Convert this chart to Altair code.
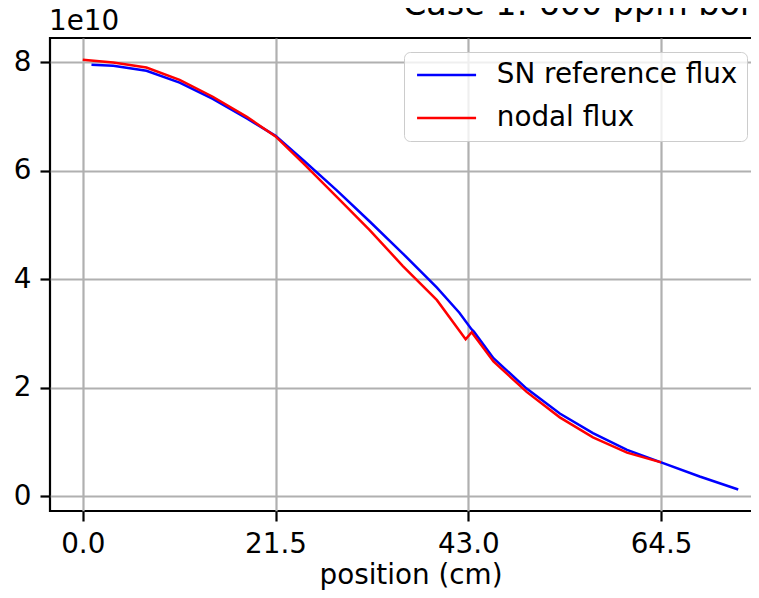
import altair as alt
import pandas as pd

# ---- data (flux in units of 1e10) ----
sn_x = [0.97, 3.4, 7.1, 10.8, 14.5, 18.3, 21.5, 24.6, 28.3, 32.0, 35.7, 39.5, 42.0,
        43.37, 43.62, 45.8, 49.5, 53.2, 56.9, 60.7, 64.5, 68.8, 73.1]
sn_y = [7.95, 7.93, 7.84, 7.62, 7.32, 6.96, 6.64, 6.19, 5.64, 5.06, 4.47, 3.84, 3.38,
        3.07, 3.03, 2.54, 1.98, 1.52, 1.16, 0.85, 0.62, 0.36, 0.12]

nodal_x = [0.0, 3.4, 7.1, 10.8, 14.5, 18.3, 21.5, 24.6, 28.3, 32.0, 35.7, 39.5, 42.7,
           43.37, 45.8, 49.5, 53.2, 56.9, 60.7, 64.5]
nodal_y = [8.04, 7.99, 7.90, 7.67, 7.36, 6.99, 6.63, 6.13, 5.52, 4.90, 4.24, 3.61, 2.89,
           3.02, 2.48, 1.92, 1.45, 1.08, 0.80, 0.62]

series_names = ["SN reference flux", "nodal flux"]
series_colors = ["#0000ff", "#ff0000"]
x_ticks = [0.0, 21.5, 43.0, 64.5]
y_ticks = [0, 2, 4, 6, 8]
title_text = "Case 1: 600 ppm boron"
exp_label = "1e10"

FONT = "DejaVu Sans"
FS = 27.8

df = pd.concat([
    pd.DataFrame({"position": sn_x, "flux": sn_y, "series": series_names[0]}),
    pd.DataFrame({"position": nodal_x, "flux": nodal_y, "series": series_names[1]}),
], ignore_index=True)

x_enc = alt.X("position:Q",
              scale=alt.Scale(domain=[-3.655, 76.755], nice=False, zero=False),
              axis=alt.Axis(values=x_ticks, format=".1f", title="position (cm)",
                            titleX=360.5, titleY=72, titleBaseline="alphabetic",
                            titleAlign="center"))
y_enc = alt.Y("flux:Q",
              scale=alt.Scale(domain=[-0.276, 8.443], nice=False, zero=False),
              axis=alt.Axis(values=y_ticks, format="d", title=None))
color_enc = alt.Color("series:N",
                      scale=alt.Scale(domain=series_names, range=series_colors),
                      legend=alt.Legend(title=None, orient="none", legendX=354, legendY=14,
                                        symbolType="M-1,0H5", symbolSize=387,
                                        symbolStrokeWidth=2.5, labelFontSize=FS,
                                        labelFont=FONT, labelColor="black", labelLimit=500,
                                        labelOffset=56, rowPadding=14, padding=9,
                                        strokeColor="#cccccc", cornerRadius=6,
                                        fillColor="rgba(255,255,255,0.8)"))

base = alt.Chart(df).mark_line(strokeWidth=2.5, interpolate="linear").encode(
    x=x_enc, y=y_enc, color=color_enc)

sn_line = base.transform_filter(alt.datum.series == series_names[0])
nodal_line = base.transform_filter(alt.datum.series == series_names[1])

title_mark = alt.Chart(pd.DataFrame({"t": [title_text]})).mark_text(
    font=FONT, fontSize=33.4, align="left", baseline="alphabetic", color="black"
).encode(x=alt.value(353), y=alt.value(-23), text="t:N")

exp_mark = alt.Chart(pd.DataFrame({"t": [exp_label]})).mark_text(
    font=FONT, fontSize=FS, align="left", baseline="alphabetic", color="black"
).encode(x=alt.value(-1), y=alt.value(-8), text="t:N")

chart = alt.layer(sn_line, nodal_line, title_mark, exp_mark).properties(
    width=721, height=473,
    autosize=alt.AutoSizeParams(type="none"),
    padding={"left": 42, "top": 30, "right": -20, "bottom": 79},
).configure_view(
    stroke="black", strokeWidth=2.2
).configure_axis(
    grid=True, gridColor="#b0b0b0", gridWidth=2.2, domain=False,
    tickColor="black", tickWidth=2.2, tickSize=10,
    labelFont=FONT, labelFontSize=FS, labelColor="black", labelPadding=9,
    titleFont=FONT, titleFontSize=FS, titleFontWeight="normal", titleColor="black",
)

chart.save("out.html", embed_options={"renderer": "svg", "actions": False})
